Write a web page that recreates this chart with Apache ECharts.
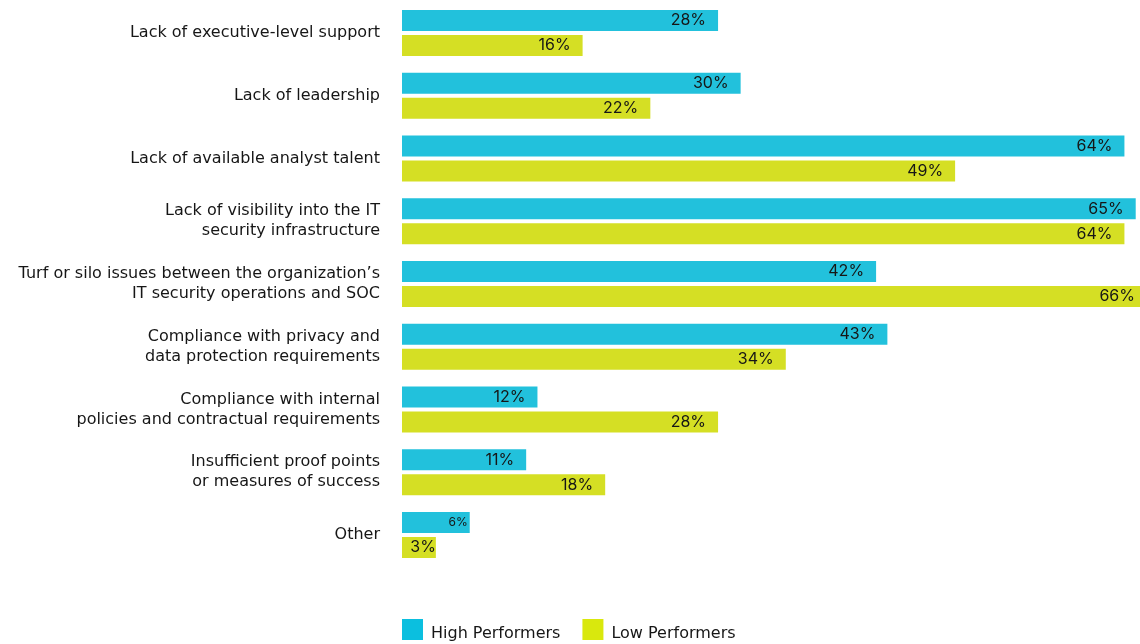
<!DOCTYPE html>
<html>
<head>
<meta charset="utf-8">
<style>
  html, body { margin: 0; padding: 0; background: #ffffff; }
  #chart { width: 1140px; height: 644px; }
</style>
<script src="https://cdn.jsdelivr.net/npm/echarts@6/dist/echarts.min.js"></script>
</head>
<body>
<div id="chart"></div>
<script>
// Obstacles to SOC effectiveness, share of respondents by performer group
const categories = [
  'Lack of executive-level support',
  'Lack of leadership',
  'Lack of available analyst talent',
  'Lack of visibility into the IT\nsecurity infrastructure',
  'Turf or silo issues between the organization\u2019s\nIT security operations and SOC',
  'Compliance with privacy and\ndata protection requirements',
  'Compliance with internal\npolicies and contractual requirements',
  'Insufficient proof points\nor measures of success',
  'Other'
];
const highPerformers = [28, 30, 64, 65, 42, 43, 12, 11, 6];
const lowPerformers = [16, 22, 49, 64, 66, 34, 28, 18, 3];
const seriesNames = ['High Performers', 'Low Performers'];

const FONT = '"DejaVu Sans", sans-serif';
const LABEL_FONT = 'Inter, "Noto Sans", sans-serif';
const TEXT = '#161616';
const BLUE = '#22c1dc';
const YELLOW = '#d5df24';

// legend swatch: a 21px square sitting at the top of a 21x29 item box,
// so the legend text lines up a little below the square's centre
const SWATCH = 'path://M0,0L21,0L21,21L0,21Z M0,29L0.01,29';

const chart = echarts.init(document.getElementById('chart'), null, { renderer: 'canvas' });

function valueLabel(size) {
  return {
    show: true,
    position: 'insideRight',
    distance: 12,
    color: TEXT,
    fontFamily: LABEL_FONT,
    fontSize: size,
    formatter: '{c}%'
  };
}

// short bars keep their labels tucked against the bar end
function withLabelTweaks(values, tweaks) {
  return values.map(function (v, i) {
    return tweaks[i] ? { value: v, label: tweaks[i] } : v;
  });
}

chart.setOption({
  animation: false,
  backgroundColor: '#ffffff',
  // the plot runs slightly past the right edge, so the longest bar is cut off
  grid: {
    left: 402, width: 745, top: 1.6, bottom: 77.6,
    containLabel: false, outerBoundsMode: 'none'
  },
  xAxis: {
    type: 'value',
    min: 0,
    max: 66,
    show: false
  },
  yAxis: {
    type: 'category',
    data: categories,
    inverse: true,
    axisLine: { show: false },
    axisTick: { show: false },
    splitLine: { show: false },
    axisLabel: {
      margin: 22,
      color: TEXT,
      fontFamily: FONT,
      fontSize: 16,
      lineHeight: 20,
      align: 'right'
    }
  },
  legend: {
    left: 402,
    top: 619,
    padding: 0,
    itemWidth: 21,
    itemHeight: 29,
    itemGap: 22,
    icon: SWATCH,
    textStyle: { color: TEXT, fontFamily: FONT, fontSize: 16, padding: [0, 0, 0, 3] },
    data: [
      { name: seriesNames[0], itemStyle: { color: '#0bbfdf' } },
      { name: seriesNames[1], itemStyle: { color: '#d9e80d' } }
    ]
  },
  series: [
    {
      name: seriesNames[0],
      type: 'bar',
      barWidth: 21,
      barGap: '19%',
      itemStyle: { color: BLUE },
      label: valueLabel(16),
      data: withLabelTweaks(highPerformers, { 8: { fontSize: 12, distance: 2 } })
    },
    {
      name: seriesNames[1],
      type: 'bar',
      barWidth: 21,
      barGap: '19%',
      itemStyle: { color: YELLOW },
      label: valueLabel(16),
      data: withLabelTweaks(lowPerformers, { 8: { distance: 0 } })
    }
  ]
});
</script>
</body>
</html>
